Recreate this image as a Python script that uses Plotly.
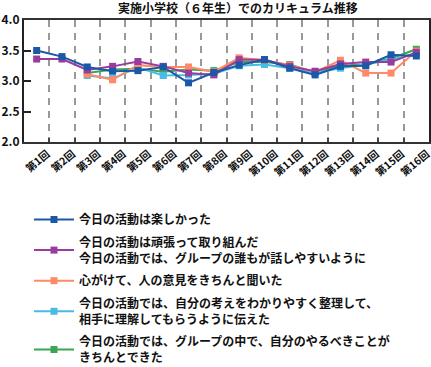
import plotly.graph_objects as go

categories = ["第1回", "第2回", "第3回", "第4回", "第5回", "第6回", "第7回", "第8回",
              "第9回", "第10回", "第11回", "第12回", "第13回", "第14回", "第15回", "第16回"]

series_names = [
    "今日の活動は楽しかった",
    "今日の活動は頑張って取り組んだ<br>今日の活動では、グループの誰もが話しやすいように",
    "心がけて、人の意見をきちんと聞いた",
    "今日の活動では、自分の考えをわかりやすく整理して、<br>相手に理解してもらうように伝えた",
    "今日の活動では、グループの中で、自分のやるべきことが<br>きちんとできた",
]

blue_vals   = [3.50, 3.40, 3.23, 3.16, 3.17, 3.23, 2.97, 3.14, 3.26, 3.35, 3.21, 3.10, 3.24, 3.25, 3.43, 3.41]
purple_vals = [3.36, 3.36, 3.18, 3.24, 3.32, 3.24, 3.13, 3.10, 3.35, 3.35, 3.24, 3.16, 3.28, 3.31, 3.31, 3.47]
orange_vals = [None, None, 3.11, 3.02, 3.26, 3.23, 3.23, 3.15, 3.38, 3.34, 3.26, 3.15, 3.34, 3.13, 3.13, 3.49]
lblue_vals  = [None, None, 3.09, 3.04, 3.22, 3.09, 3.10, 3.12, 3.25, 3.27, 3.21, 3.13, 3.21, 3.27, 3.35, 3.45]
green_vals  = [None, None, 3.13, 3.19, 3.20, 3.15, 3.19, 3.17, 3.31, 3.31, 3.27, 3.14, 3.26, 3.27, 3.37, 3.52]

y_ticks = [2.0, 2.5, 3.0, 3.5, 4.0]
y_tick_labels = ["2.0", "2.5", "3.0", "3.5", "4.0"]

colors = ["#1c58a8", "#9a3c9e", "#ff8a68", "#48bde4", "#3aa655"]
values = [blue_vals, purple_vals, orange_vals, lblue_vals, green_vals]

x_idx = list(range(len(categories)))
boundaries = [i + 0.5 for i in x_idx[:-1]]
label_pos = [i + 0.42 for i in x_idx]

fig = go.Figure()
for k, (name, vals, col) in reversed(list(enumerate(zip(series_names, values, colors)))):
    fig.add_trace(go.Scatter(
        x=x_idx, y=vals, name=name, mode="lines+markers",
        legendgroup=f"g{k}", legendrank=k + 1,
        line=dict(color=col, width=2),
        marker=dict(symbol="square", size=7, color=col),
        connectgaps=False,
    ))

font_family = "Noto Sans CJK JP"

fig.update_layout(
    width=431, height=367,
    margin=dict(l=24, r=2, t=20, b=225, autoexpand=False),
    paper_bgcolor="white", plot_bgcolor="white",
    title=dict(text="<b>実施小学校（６年生）でのカリキュラム推移</b>",
               x=0.552, xref="container", xanchor="center",
               y=1 - 9 / 367, yref="container", yanchor="middle",
               font=dict(family=font_family, size=12, color="#111")),
    showlegend=True,
    legend=dict(
        traceorder="grouped",
        tracegroupgap=4,
        xref="container", yref="container",
        x=29 / 431, xanchor="left",
        y=1 - 205 / 367, yanchor="top",
        font=dict(family=font_family, size=12, color="#111", weight="bold"),
        itemwidth=40,
        bgcolor="rgba(0,0,0,0)",
    ),
    font=dict(family=font_family, color="#111"),
)

fig.update_xaxes(
    range=[-0.5, len(categories) - 0.5],
    tickmode="array", tickvals=label_pos, ticktext=categories,
    tickangle=-40, ticks="", ticklabeloverflow="allow",
    tickfont=dict(family=font_family, size=10.5, color="#111", weight="bold"),
    showgrid=False,
    minor=dict(tickmode="array", tickvals=boundaries,
               ticks="inside", ticklen=4, tickwidth=1.5, tickcolor="#444",
               showgrid=True, gridcolor="#999", gridwidth=1.5, griddash="7px,6px"),
    showline=True, linecolor="#333", linewidth=2, mirror=True,
    zeroline=False,
)
fig.update_yaxes(
    range=[2.0, 4.0],
    tickmode="array", tickvals=y_ticks, ticktext=y_tick_labels,
    tickfont=dict(family=font_family, size=12, color="#111", weight="bold"),
    ticks="inside", ticklen=7, tickwidth=2, tickcolor="#222",
    showgrid=False,
    showline=True, linecolor="#222", linewidth=2, mirror=True,
    zeroline=False,
)

fig.write_html("out.html",
               config={"displayModeBar": False},
               post_script="document.body.style.margin='0';document.body.style.overflow='hidden';")
